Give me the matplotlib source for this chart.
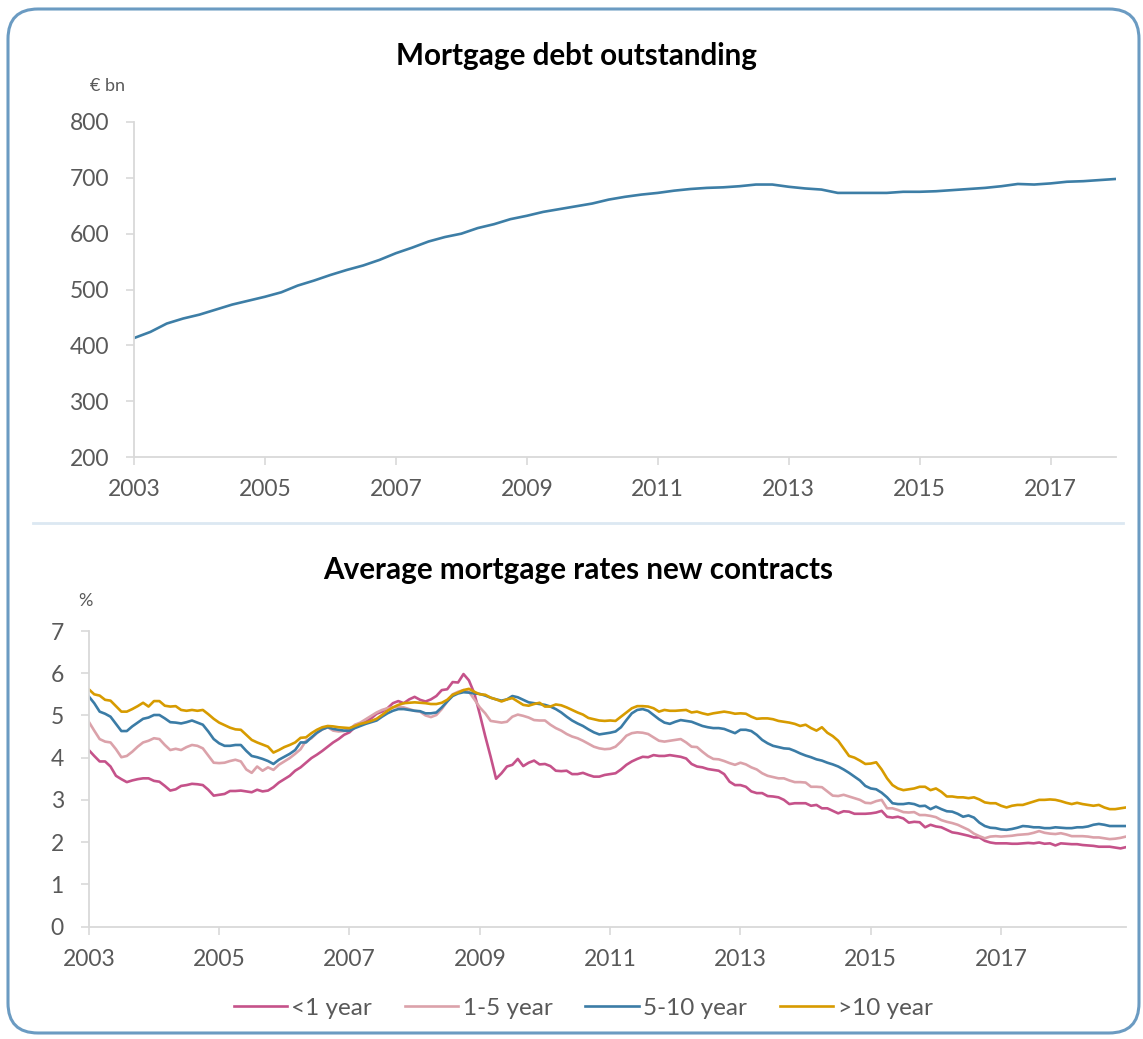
import numpy as np
import matplotlib.pyplot as plt
from matplotlib.patches import FancyBboxPatch
from matplotlib.lines import Line2D

plt.rcParams['font.family'] = ['Lato', 'DejaVu Sans']

# mortgage debt outstanding, quarterly 2003Q1 .. 2018Q1 (EUR bn)
debt_start = 2003.0
debt = [413, 424, 439, 448, 455, 464, 473, 480, 487, 495, 507, 516,
        526, 535, 543, 553, 565, 575, 586, 594, 600, 610, 617, 626,
        632, 639, 644, 649, 654, 661, 666, 670, 673, 677, 680, 682,
        683, 685, 688, 688, 684, 681, 679, 673, 673, 673, 673, 675,
        675, 676, 678, 680, 682, 685, 689, 688, 690, 693, 694, 696, 698]

# average mortgage rates new contracts, monthly from Jan 2003 (%)
rate_start = 2003.0
rate_lt1 = [4.18, 4.04, 3.91, 3.91, 3.79, 3.57, 3.49, 3.42, 3.46, 3.49, 3.51, 3.51,
            3.45, 3.43, 3.33, 3.22, 3.25, 3.33, 3.35, 3.38, 3.37, 3.35, 3.24, 3.10,
            3.12, 3.14, 3.21, 3.21, 3.22, 3.20, 3.18, 3.24, 3.20, 3.22, 3.30, 3.41,
            3.49, 3.57, 3.69, 3.77, 3.88, 3.99, 4.07, 4.16, 4.26, 4.36, 4.44, 4.54,
            4.60, 4.72, 4.81, 4.85, 4.93, 5.04, 5.09, 5.17, 5.29, 5.34, 5.29, 5.38,
            5.44, 5.37, 5.33, 5.38, 5.46, 5.60, 5.62, 5.79, 5.78, 5.98, 5.83, 5.52,
            5.03, 4.51, 4.02, 3.50, 3.63, 3.79, 3.83, 3.97, 3.80, 3.88, 3.93, 3.84,
            3.85, 3.80, 3.69, 3.68, 3.69, 3.61, 3.61, 3.64, 3.59, 3.55, 3.55, 3.59,
            3.61, 3.63, 3.72, 3.83, 3.91, 3.97, 4.02, 4.01, 4.06, 4.04, 4.04, 4.06,
            4.04, 4.02, 3.98, 3.85, 3.79, 3.77, 3.73, 3.71, 3.69, 3.61, 3.43, 3.35,
            3.35, 3.31, 3.20, 3.16, 3.16, 3.09, 3.08, 3.06, 3.00, 2.90, 2.92, 2.92,
            2.92, 2.86, 2.88, 2.80, 2.80, 2.74, 2.68, 2.73, 2.72, 2.67, 2.67, 2.67,
            2.68, 2.70, 2.74, 2.60, 2.58, 2.60, 2.56, 2.46, 2.48, 2.47, 2.35, 2.41,
            2.37, 2.35, 2.29, 2.23, 2.21, 2.18, 2.15, 2.11, 2.11, 2.03, 1.99, 1.97,
            1.97, 1.97, 1.96, 1.96, 1.97, 1.98, 1.97, 1.99, 1.96, 1.97, 1.92, 1.97,
            1.96, 1.95, 1.95, 1.93, 1.92, 1.91, 1.89, 1.89, 1.89, 1.87, 1.85, 1.88]
rate_1to5 = [4.85, 4.64, 4.44, 4.38, 4.36, 4.20, 4.01, 4.04, 4.14, 4.26, 4.36, 4.40,
             4.46, 4.44, 4.30, 4.18, 4.21, 4.18, 4.25, 4.30, 4.28, 4.22, 4.05, 3.88,
             3.87, 3.88, 3.92, 3.95, 3.91, 3.72, 3.64, 3.79, 3.69, 3.77, 3.71, 3.83,
             3.91, 3.99, 4.09, 4.20, 4.40, 4.46, 4.58, 4.67, 4.72, 4.64, 4.62, 4.63,
             4.67, 4.78, 4.83, 4.91, 4.99, 5.07, 5.13, 5.17, 5.19, 5.21, 5.19, 5.15,
             5.11, 5.09, 5.00, 4.96, 5.01, 5.15, 5.33, 5.50, 5.56, 5.60, 5.56, 5.38,
             5.19, 5.05, 4.87, 4.85, 4.83, 4.85, 4.97, 5.02, 4.99, 4.95, 4.89, 4.88,
             4.88, 4.78, 4.70, 4.64, 4.56, 4.50, 4.46, 4.40, 4.33, 4.26, 4.22, 4.20,
             4.21, 4.26, 4.38, 4.52, 4.58, 4.60, 4.59, 4.56, 4.48, 4.40, 4.38, 4.40,
             4.42, 4.44, 4.36, 4.26, 4.25, 4.14, 4.04, 3.97, 3.96, 3.92, 3.87, 3.83,
             3.88, 3.84, 3.77, 3.72, 3.63, 3.57, 3.54, 3.51, 3.51, 3.46, 3.42, 3.42,
             3.41, 3.31, 3.31, 3.30, 3.20, 3.10, 3.09, 3.12, 3.08, 3.04, 3.00, 2.93,
             2.92, 2.97, 3.00, 2.80, 2.80, 2.76, 2.71, 2.70, 2.71, 2.64, 2.64, 2.62,
             2.59, 2.52, 2.48, 2.45, 2.41, 2.35, 2.29, 2.20, 2.14, 2.09, 2.13, 2.14,
             2.13, 2.14, 2.15, 2.17, 2.18, 2.19, 2.22, 2.26, 2.22, 2.20, 2.19, 2.21,
             2.18, 2.14, 2.14, 2.14, 2.13, 2.11, 2.11, 2.09, 2.07, 2.08, 2.10, 2.13]
rate_5to10 = [5.45, 5.29, 5.09, 5.04, 4.97, 4.80, 4.63, 4.63, 4.74, 4.83, 4.92, 4.95,
              5.01, 5.01, 4.93, 4.84, 4.83, 4.81, 4.84, 4.88, 4.83, 4.78, 4.62, 4.44,
              4.34, 4.28, 4.28, 4.30, 4.30, 4.16, 4.04, 4.01, 3.97, 3.92, 3.85, 3.95,
              4.02, 4.09, 4.18, 4.36, 4.36, 4.48, 4.59, 4.67, 4.72, 4.68, 4.66, 4.64,
              4.64, 4.70, 4.75, 4.80, 4.84, 4.88, 4.97, 5.05, 5.11, 5.15, 5.15, 5.13,
              5.11, 5.10, 5.05, 5.05, 5.07, 5.19, 5.33, 5.46, 5.52, 5.55, 5.54, 5.52,
              5.51, 5.47, 5.42, 5.38, 5.35, 5.38, 5.46, 5.43, 5.37, 5.31, 5.29, 5.27,
              5.25, 5.21, 5.15, 5.07, 4.97, 4.88, 4.81, 4.75, 4.67, 4.60, 4.55, 4.57,
              4.59, 4.62, 4.72, 4.89, 5.05, 5.13, 5.15, 5.11, 5.01, 4.91, 4.83, 4.80,
              4.85, 4.89, 4.87, 4.85, 4.80, 4.75, 4.72, 4.70, 4.70, 4.68, 4.63, 4.58,
              4.66, 4.66, 4.63, 4.54, 4.42, 4.34, 4.28, 4.25, 4.22, 4.21, 4.16, 4.10,
              4.05, 4.01, 3.96, 3.93, 3.88, 3.84, 3.79, 3.72, 3.64, 3.55, 3.46, 3.33,
              3.27, 3.25, 3.17, 3.06, 2.92, 2.90, 2.90, 2.92, 2.90, 2.85, 2.86, 2.78,
              2.84, 2.78, 2.73, 2.72, 2.67, 2.60, 2.63, 2.58, 2.46, 2.38, 2.34, 2.33,
              2.30, 2.29, 2.31, 2.34, 2.38, 2.37, 2.35, 2.35, 2.33, 2.33, 2.35, 2.34,
              2.33, 2.33, 2.35, 2.35, 2.37, 2.41, 2.43, 2.41, 2.38, 2.38, 2.38, 2.38]
rate_gt10 = [5.62, 5.50, 5.47, 5.37, 5.35, 5.22, 5.09, 5.09, 5.15, 5.22, 5.30, 5.21,
             5.34, 5.34, 5.23, 5.21, 5.22, 5.13, 5.11, 5.13, 5.11, 5.13, 5.03, 4.92,
             4.83, 4.77, 4.71, 4.67, 4.66, 4.54, 4.42, 4.36, 4.31, 4.26, 4.12, 4.18,
             4.25, 4.30, 4.36, 4.47, 4.48, 4.58, 4.66, 4.72, 4.75, 4.74, 4.72, 4.71,
             4.70, 4.75, 4.80, 4.83, 4.87, 4.92, 5.01, 5.11, 5.19, 5.25, 5.29, 5.30,
             5.31, 5.30, 5.29, 5.27, 5.27, 5.30, 5.37, 5.49, 5.54, 5.60, 5.63, 5.56,
             5.50, 5.49, 5.42, 5.38, 5.33, 5.38, 5.41, 5.33, 5.25, 5.23, 5.27, 5.30,
             5.21, 5.21, 5.26, 5.24, 5.19, 5.13, 5.07, 5.02, 4.94, 4.91, 4.88, 4.87,
             4.88, 4.87, 4.97, 5.07, 5.17, 5.22, 5.22, 5.21, 5.17, 5.09, 5.13, 5.11,
             5.11, 5.12, 5.13, 5.07, 5.09, 5.05, 5.02, 5.05, 5.07, 5.09, 5.07, 5.04,
             5.05, 5.04, 4.97, 4.92, 4.93, 4.93, 4.91, 4.87, 4.85, 4.83, 4.80, 4.75,
             4.78, 4.70, 4.64, 4.72, 4.59, 4.51, 4.40, 4.22, 4.04, 4.00, 3.93, 3.85,
             3.86, 3.89, 3.72, 3.51, 3.35, 3.27, 3.23, 3.25, 3.27, 3.31, 3.31, 3.23,
             3.27, 3.19, 3.08, 3.08, 3.06, 3.06, 3.04, 3.06, 3.01, 2.94, 2.92, 2.92,
             2.86, 2.82, 2.86, 2.88, 2.88, 2.92, 2.96, 3.00, 3.00, 3.01, 3.00, 2.97,
             2.93, 2.90, 2.93, 2.90, 2.88, 2.86, 2.88, 2.82, 2.78, 2.78, 2.80, 2.82]

series_names = ['<1 year', '1-5 year', '5-10 year', '>10 year']
series_colors = ['#c5528a', '#dba2aa', '#3b7ca6', '#d79b00']
year_ticks = list(range(2003, 2018, 2))

grey = '#595959'
axis_grey = '#d9d9d9'


def style_axis(ax):
    for s in ['top', 'right']:
        ax.spines[s].set_visible(False)
    for s in ['left', 'bottom']:
        ax.spines[s].set_color(axis_grey)
        ax.spines[s].set_linewidth(1.3)
    ax.tick_params(axis='both', direction='out', length=6, width=1.2, color=axis_grey,
                   labelcolor=grey, labelsize=16.5)
    ax.tick_params(axis='x', pad=10)
    ax.tick_params(axis='y', pad=12)


fig = plt.figure(figsize=(11.43, 10.39), dpi=100)

# frame round the whole chart
frame = FancyBboxPatch((0.08, 0.06), 11.31, 10.24, boxstyle='round,pad=0,rounding_size=0.3',
                       transform=fig.dpi_scale_trans, fill=False, edgecolor='#6b9bc2', linewidth=2.2)
fig.patches.append(frame)
fig.add_artist(Line2D([33 / 1143, 1123 / 1143], [1 - 523 / 1039, 1 - 523 / 1039],
                      color='#dce8f2', linewidth=2))

# top: debt outstanding
ax1 = fig.add_axes([134 / 1143, 1 - 457 / 1039, (1116 - 134) / 1143, (457 - 122) / 1039])
x_debt = debt_start + np.arange(len(debt)) / 4
ax1.plot(x_debt, debt, color='#3d7ea6', linewidth=1.9)
ax1.set_xlim(2003, 2018)
ax1.set_ylim(200, 800)
ax1.set_yticks(range(200, 801, 100))
ax1.set_xticks(year_ticks)
style_axis(ax1)
fig.text(577 / 1143, 1 - 56 / 1039, 'Mortgage debt outstanding', ha='center', va='center',
         fontsize=21.3, fontweight='bold', color='black')
fig.text(107 / 1143, 1 - 86 / 1039, '€ bn', ha='center', va='center', fontsize=13, color=grey)

# bottom: mortgage rates
ax2 = fig.add_axes([88.8 / 1143, 1 - 926.5 / 1039, (1126 - 88.8) / 1143, (926.5 - 631) / 1039])
n = len(rate_lt1)
x_rate = rate_start + np.arange(n) / 12
for vals, name, col in zip([rate_lt1, rate_1to5, rate_5to10, rate_gt10], series_names, series_colors):
    ax2.plot(x_rate, vals, color=col, linewidth=1.9, label=name)
ax2.set_xlim(rate_start, x_rate[-1])
ax2.set_ylim(0, 7)
ax2.set_yticks(range(0, 8))
ax2.set_xticks(year_ticks)
style_axis(ax2)
fig.text(578 / 1143, 1 - 570 / 1039, 'Average mortgage rates new contracts', ha='center', va='center',
         fontsize=21.3, fontweight='bold', color='black')
fig.text(85 / 1143, 1 - 601 / 1039, '%', ha='center', va='center', fontsize=13, color=grey)

handles, labels = ax2.get_legend_handles_labels()
leg = fig.legend(handles, labels, loc='center', bbox_to_anchor=(583 / 1143, 1 - 1008 / 1039), ncol=4,
                 frameon=False, fontsize=17.5, handlelength=2.2, handletextpad=0.17, columnspacing=1.36)
for t in leg.get_texts():
    t.set_color(grey)

fig.savefig('out.png', dpi=100)
